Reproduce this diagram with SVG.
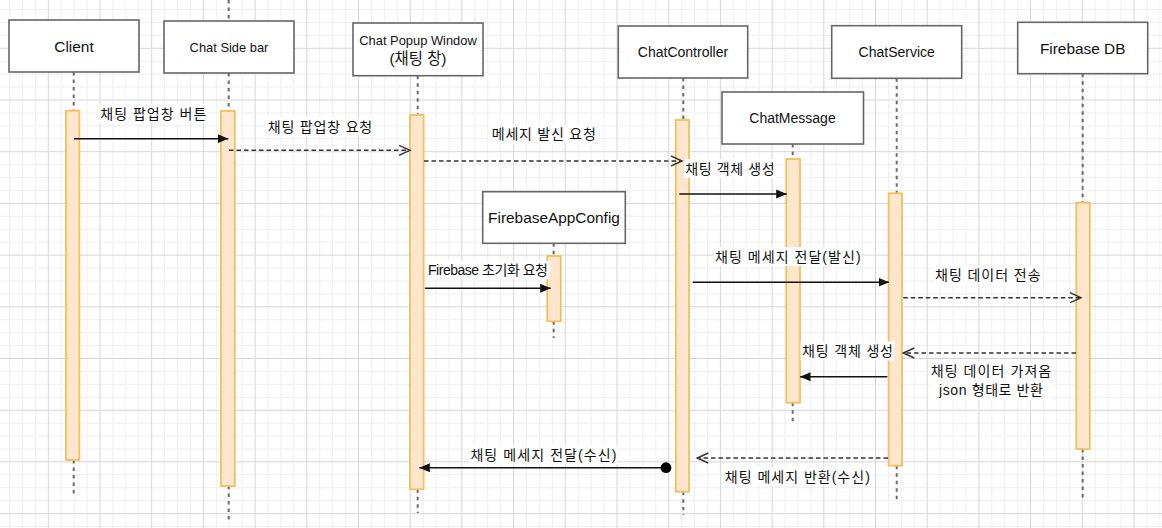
<svg xmlns="http://www.w3.org/2000/svg" width="1162" height="528" viewBox="0 0 1162 528">
<style>
.box{fill:#ffffff;stroke:#666666;stroke-width:1.6}
.bt{font-family:"Liberation Sans","Noto Sans CJK KR",sans-serif;fill:#111111;text-anchor:middle}
.life{stroke:#6a6a6a;stroke-width:2;stroke-dasharray:3.5 4;fill:none}
.act{fill:#ffe6cc;stroke:#f0c15e;stroke-width:1.8}
.msg{stroke:#111111;stroke-width:1.4;fill:none}
.dash{stroke:#333333;stroke-width:1.4;fill:none;stroke-dasharray:4.5 3}
.lbg{fill:#ffffff}
.lt{font-family:"Liberation Sans","Noto Sans CJK KR",sans-serif;font-size:14px;fill:#111111;text-anchor:middle}
</style>
<defs>
<pattern id="grid" width="51.7" height="51.7" patternUnits="userSpaceOnUse" x="47.8" y="47.8">
<path d="M13.4 0V51.7M26.3 0V51.7M39.2 0V51.7M0 13.4H51.7M0 26.3H51.7M0 39.2H51.7" stroke="#efefef" stroke-width="1"/>
<path d="M0.5 0V51.7M0 0.5H51.7" stroke="#d6d6d6" stroke-width="1"/>
</pattern>
<marker id="block" markerUnits="userSpaceOnUse" markerWidth="11" markerHeight="10" refX="10.5" refY="5" orient="auto" viewBox="0 0 11 10">
<path d="M0,0.5 L10.5,5 L0,9.5 Z" fill="#111111"/>
</marker>
<marker id="open" markerUnits="userSpaceOnUse" markerWidth="13" markerHeight="12" refX="11.5" refY="6" orient="auto" viewBox="0 0 13 12">
<path d="M0.5,1 L11.5,6 L0.5,11" fill="none" stroke="#333333" stroke-width="1.4"/>
</marker>
<marker id="dot" markerUnits="userSpaceOnUse" markerWidth="12" markerHeight="12" refX="6" refY="6" orient="auto" viewBox="0 0 12 12">
<circle cx="6" cy="6" r="5.4" fill="#000000"/>
</marker>
</defs>
<rect width="1162" height="528" fill="#ffffff"/>
<rect width="1162" height="528" fill="url(#grid)"/>

<g id="node-client">
<path class="life" d="M73.7 72V110.7M73.7 460V495"/>
<rect class="act" x="66" y="110.7" width="13.4" height="349.3"/>
<rect class="box" x="9" y="20" width="130" height="52"/>
<text class="bt" x="74" y="51.5" font-size="15.4">Client</text>
</g>

<g id="node-sidebar">
<path class="life" d="M228.7 0V21M228.7 73V111M228.7 486V520"/>
<rect class="act" x="221" y="111" width="13.8" height="375"/>
<rect class="box" x="164" y="21" width="130" height="52"/>
<text class="bt" x="229" y="52" font-size="12.9">Chat Side bar</text>
</g>

<g id="node-popup">
<path class="life" d="M417.7 75.7V115M417.7 489.3V513"/>
<rect class="act" x="410" y="115" width="13.6" height="374.3"/>
<rect class="box" x="353" y="23" width="130" height="52.7"/>
<text class="bt" x="418" y="44.5" font-size="12.9">Chat Popup Window</text>
<text class="bt" x="418" y="64" font-size="15.4">(채팅 창)</text>
</g>

<g id="node-firebaseappconfig">
<path class="life" d="M553.7 243.3V256M553.7 321.3V338"/>
<rect class="act" x="547.2" y="256" width="13.6" height="65.3"/>
<rect class="box" x="482.7" y="191.7" width="142.6" height="51.6"/>
<text class="bt" x="554" y="223" font-size="15.4">FirebaseAppConfig</text>
</g>

<g id="node-chatcontroller">
<path class="life" d="M683.3 78V120M683.3 491.7V515"/>
<rect class="act" x="675.8" y="120" width="13.2" height="371.7"/>
<rect class="box" x="618.3" y="26" width="129.4" height="52"/>
<text class="bt" x="683" y="56.7" font-size="14">ChatController</text>
</g>

<g id="node-chatmessage">
<path class="life" d="M792.7 144V159M792.7 402.7V424"/>
<rect class="act" x="786.3" y="159" width="13.7" height="243.7"/>
<rect class="box" x="722" y="92" width="141.5" height="52"/>
<text class="bt" x="792.5" y="122.7" font-size="14">ChatMessage</text>
</g>

<g id="node-chatservice">
<path class="life" d="M896.7 78.3V193.3M896.7 465.7V500"/>
<rect class="act" x="888.6" y="193.3" width="13.4" height="272.4"/>
<rect class="box" x="831.7" y="25.7" width="130" height="52.6"/>
<text class="bt" x="896.7" y="56.7" font-size="14">ChatService</text>
</g>

<g id="node-firebasedb">
<path class="life" d="M1082.7 73.7V202.7M1082.7 449V500"/>
<rect class="act" x="1076.3" y="202.7" width="13.5" height="246.3"/>
<rect class="box" x="1017.7" y="22.3" width="130" height="51.4"/>
<text class="bt" x="1082.7" y="53.5" font-size="15.4">Firebase DB</text>
</g>

<g id="connectors">
<g id="m1">
<line class="msg" x1="74" y1="138.7" x2="228.3" y2="138.7" marker-end="url(#block)"/>
<rect class="lbg" x="99" y="104" width="109" height="19"/>
<text class="lt" x="153.3" y="118.5" textLength="106" lengthAdjust="spacing">채팅 팝업창 버튼</text>
</g>
<g id="m2">
<line class="dash" x1="229" y1="150.3" x2="410" y2="150.3" marker-end="url(#open)"/>
<rect class="lbg" x="266" y="117" width="108" height="19"/>
<text class="lt" x="320" y="131.8" textLength="104.5" lengthAdjust="spacing">채팅 팝업창 요청</text>
</g>
<g id="m3">
<line class="dash" x1="424" y1="161" x2="682" y2="161" marker-end="url(#open)"/>
<rect class="lbg" x="490" y="124.5" width="107.5" height="19"/>
<text class="lt" x="543.8" y="139.2" textLength="104" lengthAdjust="spacing">메세지 발신 요청</text>
</g>
<g id="m4">
<line class="msg" x1="679.3" y1="194" x2="786.7" y2="194" marker-end="url(#block)"/>
<rect class="lbg" x="684" y="159" width="92" height="19"/>
<text class="lt" x="730" y="173.5" textLength="89.5" lengthAdjust="spacing">채팅 객체 생성</text>
</g>
<g id="m5">
<line class="msg" x1="425" y1="288.3" x2="550.7" y2="288.3" marker-end="url(#block)"/>
<rect class="lbg" x="426.5" y="261" width="123" height="18"/>
<text class="lt" x="488" y="274.8" font-size="12.9" textLength="120" lengthAdjust="spacing">Firebase 초기화 요청</text>
</g>
<g id="m6">
<line class="msg" x1="692.7" y1="282.3" x2="889" y2="282.3" marker-end="url(#block)"/>
<rect class="lbg" x="714" y="247" width="148" height="19"/>
<text class="lt" x="787.8" y="261.7" textLength="145.5" lengthAdjust="spacing">채팅 메세지 전달(발신)</text>
</g>
<g id="m7">
<line class="dash" x1="903.3" y1="297.7" x2="1081" y2="297.7" marker-end="url(#open)"/>
<rect class="lbg" x="934" y="265.5" width="108" height="19"/>
<text class="lt" x="987.8" y="280.2" textLength="105.5" lengthAdjust="spacing">채팅 데이터 전송</text>
</g>
<g id="m8">
<line class="dash" x1="1076" y1="353" x2="903.3" y2="353" marker-end="url(#open)"/>
<rect class="lbg" x="800.5" y="341.5" width="94" height="19"/>
<text class="lt" x="847.5" y="356.2" textLength="91" lengthAdjust="spacing">채팅 객체 생성</text>
</g>
<g id="m9">
<line class="msg" x1="887.3" y1="376.7" x2="800" y2="376.7" marker-end="url(#block)"/>
<rect class="lbg" x="929.5" y="361" width="123.5" height="39"/>
<text class="lt" x="991" y="375.9" textLength="120.5" lengthAdjust="spacing">채팅 데이터 가져옴</text>
<text class="lt" x="991" y="395.2" textLength="104" lengthAdjust="spacing">json 형태로 반환</text>
</g>
<g id="m10">
<line class="dash" x1="888" y1="458" x2="697.3" y2="458" marker-end="url(#open)"/>
<rect class="lbg" x="724" y="467" width="147" height="19"/>
<text class="lt" x="797.3" y="481.9" textLength="145" lengthAdjust="spacing">채팅 메세지 반환(수신)</text>
</g>
<g id="m11">
<line class="msg" x1="666" y1="467.7" x2="419.3" y2="467.7" marker-start="url(#dot)" marker-end="url(#block)"/>
<rect class="lbg" x="469.5" y="445.5" width="148" height="19"/>
<text class="lt" x="543.4" y="460.2" textLength="146" lengthAdjust="spacing">채팅 메세지 전달(수신)</text>
</g>
</g>
</svg>
